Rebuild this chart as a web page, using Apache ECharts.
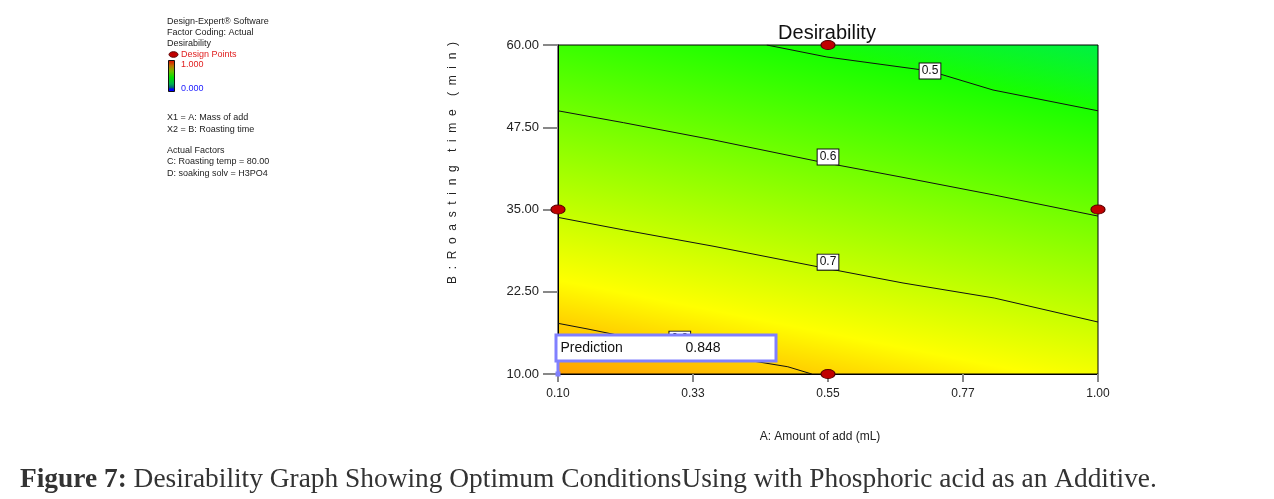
<!DOCTYPE html>
<html>
<head>
<meta charset="utf-8">
<script src="https://cdn.jsdelivr.net/npm/echarts@6/dist/echarts.min.js"></script>
<style>
  html, body { margin: 0; padding: 0; background: #fff; }
  #chart { width: 1274px; height: 499px; }
</style>
</head>
<body>
<div id="chart"></div>
<script>
// contour lines: [A: amount of add, B: roasting time]
var contour50 = [[0.448, 60], [0.548, 58.18], [0.72, 56.05], [0.825, 53.16], [1.0, 50.0]];
var contour60 = [[0.1, 50.0], [0.209, 48.2], [0.36, 45.56], [0.53, 42.37], [0.675, 39.88], [0.827, 37.2], [1.0, 34.0]];
var contour70 = [[0.1, 33.8], [0.209, 31.9], [0.36, 29.4], [0.53, 26.35], [0.675, 23.83], [0.827, 21.55], [1.0, 17.9]];
var contour80 = [[0.1, 17.7], [0.15, 16.83], [0.207, 15.77], [0.415, 12.12], [0.483, 11.1], [0.523, 10.0]];

var contourLabelPos = [[0.72, 56.05], [0.55, 42.98], [0.55, 27.0], [0.303, 15.3]];
var contourLabelText = ['0.5', '0.6', '0.7', '0.8'];

var xTickLabels = ['0.10', '0.33', '0.55', '0.77', '1.00'];
var yTickLabels = ['10.00', '22.50', '35.00', '47.50', '60.00'];

var designPoints = [[0.55, 60], [0.1, 35], [1.0, 35], [0.55, 10]];

var predictionPoint = [0.1, 10];
var predictionValue = 0.848;
var predictionLeader = [[0.1, 10], [0.1, 12.1]];

// desirability at top-right and bottom-left corners, and colour per desirability
var cornerLow = 0.44, cornerHigh = 0.848;
var surfaceLevels = [0.44, 0.5, 0.6, 0.7, 0.76, 0.8, 0.848];
var surfaceColors = ['#00f044', '#18ff00', '#70ff00', '#c8ff00', '#ffff00', '#ffd000', '#ffa000'];

var sans = '"Liberation Sans", Arial, sans-serif';
var serif = '"Liberation Serif", "DejaVu Serif", serif';

function surfaceGradient() {
    var stops = [];
    for (var i = 0; i < surfaceLevels.length; i++) {
        stops.push({
            offset: (surfaceLevels[i] - cornerLow) / (cornerHigh - cornerLow),
            color: surfaceColors[i]
        });
    }
    // runs perpendicular to the contours, from the top-right corner down-left
    return new echarts.graphic.LinearGradient(1, 0, 0.848, 1.271, stops);
}

function contourSeries(data) {
    return {
        type: 'line',
        data: data,
        symbol: 'none',
        silent: true,
        lineStyle: { color: '#111', width: 1 },
        z: 3
    };
}

function txt(x, y, text, size, color, align) {
    return {
        type: 'text',
        x: x,
        y: y,
        silent: true,
        style: {
            text: text,
            font: size + 'px ' + sans,
            fill: color || '#222',
            textAlign: align || 'left',
            textVerticalAlign: 'middle',
            align: align || 'left',
            verticalAlign: 'middle'
        }
    };
}

function tickText(labels, min, step) {
    return function (v) {
        var k = Math.round((v - min) / step);
        return labels[k] !== undefined ? labels[k] : '';
    };
}

var labelData = [];
for (var i = 0; i < contourLabelPos.length; i++) {
    labelData.push({ value: contourLabelPos[i], name: contourLabelText[i] });
}

var myChart = echarts.init(document.getElementById('chart'));

var option = {
    animation: false,
    backgroundColor: '#fff',
    grid: {
        left: 558,
        right: 176,
        top: 45,
        bottom: 125,
        show: true,
        backgroundColor: surfaceGradient(),
        borderColor: '#000',
        borderWidth: 1
    },
    xAxis: {
        type: 'value',
        min: 0.1,
        max: 1.0,
        interval: 0.225,
        name: 'A: Amount of add (mL)',
        nameLocation: 'middle',
        nameGap: 57,
        nameTextStyle: { color: '#222', fontSize: 12, fontFamily: sans, padding: [0, 16, 0, 0] },
        axisLine: { lineStyle: { color: '#000', width: 1 } },
        axisTick: { length: 8, lineStyle: { color: '#888', width: 2 } },
        axisLabel: {
            color: '#222',
            fontSize: 12,
            fontFamily: sans,
            margin: 14,
            formatter: tickText(xTickLabels, 0.1, 0.225)
        },
        splitLine: { show: false }
    },
    yAxis: {
        type: 'value',
        min: 10,
        max: 60,
        interval: 12.5,
        axisLine: { lineStyle: { color: '#000', width: 1 } },
        axisTick: { length: 15, lineStyle: { color: '#888', width: 2 } },
        axisLabel: {
            color: '#222',
            fontSize: 13,
            fontFamily: sans,
            margin: 19,
            formatter: tickText(yTickLabels, 10, 12.5)
        },
        splitLine: { show: false }
    },
    series: [
        contourSeries(contour50),
        contourSeries(contour60),
        contourSeries(contour70),
        contourSeries(contour80),
        {
            // contour value tags
            type: 'scatter',
            data: labelData,
            symbolSize: 0,
            silent: true,
            clip: false,
            z: 4,
            itemStyle: { opacity: 1 },
            label: {
                show: true,
                position: 'inside',
                formatter: '{b}',
                color: '#111',
                fontSize: 12,
                fontFamily: sans,
                backgroundColor: '#fff',
                borderColor: '#111',
                borderWidth: 1,
                padding: [2, 2, 1, 2]
            }
        },
        {
            type: 'line',
            data: predictionLeader,
            symbol: 'none',
            silent: true,
            lineStyle: { color: '#8080ff', width: 3 },
            z: 5
        },
        {
            type: 'scatter',
            data: [predictionPoint],
            symbol: 'rect',
            symbolSize: 5,
            clip: false,
            silent: true,
            itemStyle: { color: '#8080ff', opacity: 1 },
            z: 6,
            label: {
                show: true,
                position: [2, -35],
                align: 'left',
                verticalAlign: 'top',
                formatter: '{a|Prediction}{b|' + predictionValue.toFixed(3) + '}',
                backgroundColor: '#fff',
                borderColor: '#8080ff',
                borderWidth: 3,
                width: 211,
                padding: [5, 3, 4, 3],
                rich: {
                    a: { fontSize: 14, fontFamily: sans, color: '#111', width: 125 },
                    b: { fontSize: 14, fontFamily: sans, color: '#111' }
                }
            }
        },
        {
            type: 'scatter',
            data: designPoints,
            symbol: 'circle',
            symbolSize: [14, 9],
            clip: false,
            silent: true,
            itemStyle: { color: '#c00000', borderColor: '#5a0000', borderWidth: 1, opacity: 1 },
            z: 7
        }
    ],
    graphic: [
        txt(827, 33, 'Desirability', 20, '#111', 'center'),
        {
            type: 'text',
            x: 453,
            y: 163,
            rotation: Math.PI / 2,
            silent: true,
            style: {
                text: 'B  :  R  o  a  s  t  i  n  g    t  i  m  e    (  m  i  n  )',
                font: '12px ' + sans,
                fill: '#222',
                textAlign: 'center',
                textVerticalAlign: 'middle',
                align: 'center',
                verticalAlign: 'middle'
            }
        },
        txt(167, 22, 'Design-Expert® Software', 9),
        txt(167, 33, 'Factor Coding: Actual', 9),
        txt(167, 44, 'Desirability', 9),
        {
            type: 'ellipse',
            silent: true,
            shape: { cx: 173.5, cy: 54.5, rx: 4.5, ry: 2.8 },
            style: { fill: '#c00000', stroke: '#5a0000', lineWidth: 1 }
        },
        txt(181, 55, 'Design Points', 9, '#e02020'),
        {
            type: 'rect',
            silent: true,
            shape: { x: 168.5, y: 60.5, width: 6, height: 31 },
            style: {
                fill: new echarts.graphic.LinearGradient(0, 0, 0, 1, [
                    { offset: 0, color: '#e00000' },
                    { offset: 0.18, color: '#c07000' },
                    { offset: 0.35, color: '#70c000' },
                    { offset: 0.55, color: '#00e000' },
                    { offset: 0.75, color: '#00b050' },
                    { offset: 0.88, color: '#005080' },
                    { offset: 0.9, color: '#0000ff' },
                    { offset: 1, color: '#0000ff' }
                ]),
                stroke: '#111',
                lineWidth: 1
            }
        },
        txt(181, 65, '1.000', 9, '#e02020'),
        txt(181, 89, '0.000', 9, '#2020ff'),
        txt(167, 118, 'X1 = A: Mass of add', 9),
        txt(167, 130, 'X2 = B: Roasting time', 9),
        txt(167, 151, 'Actual Factors', 9),
        txt(167, 162, 'C: Roasting temp = 80.00', 9),
        txt(167, 174, 'D: soaking solv = H3PO4', 9),
        {
            type: 'text',
            x: 20,
            y: 480,
            silent: true,
            style: {
                text: '{b|Figure 7:} Desirability Graph Showing Optimum ConditionsUsing with Phosphoric acid as an Additive.',
                font: '27.4px ' + serif,
                fill: '#333',
                textVerticalAlign: 'middle',
                verticalAlign: 'middle',
                rich: {
                    b: { font: 'bold 27.4px ' + serif, fill: '#333', color: '#333' }
                }
            }
        }
    ]
};

myChart.setOption(option);
</script>
</body>
</html>
